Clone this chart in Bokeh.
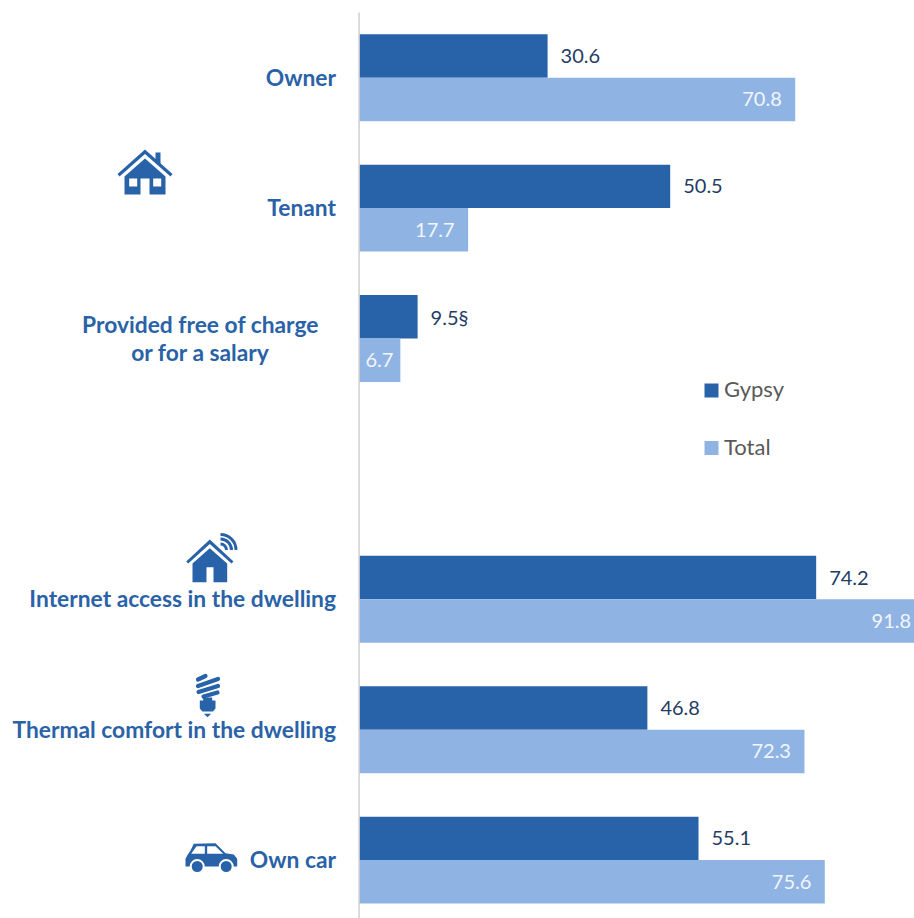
from bokeh.plotting import figure
from bokeh.models import Range1d
from bokeh.core.properties import value
from bokeh.embed import file_html
from bokeh.resources import INLINE

# Housing tenure and household amenities, % of households
categories = ["Owner", "Tenant", "Provided free of charge\nor for a salary", "",
              "Internet access in the dwelling", "Thermal comfort in the dwelling", "Own car"]
gypsy = [30.6, 50.5, 9.5, None, 74.2, 46.8, 55.1]
total = [70.8, 17.7, 6.7, None, 91.8, 72.3, 75.6]
gypsy_text = ["30.6", "50.5", "9.5§", "", "74.2", "46.8", "55.1"]
total_text = ["70.8", "17.7", "6.7", "", "91.8", "72.3", "75.6"]
series_names = ["Gypsy", "Total"]

DARK = "#2862A8"
LIGHT = "#8FB4E3"
LABEL = "#2A62A8"
VALUE = "#1F3D66"
GREY = "#595959"
FONT = "Lato"

W, H = 914, 918
X0 = 358.6      # pixel of the zero line
PX_PER_UNIT = 6.16
SLOT = 130.4
TOP = 77.2      # pixel centre of the first group

p = figure(width=W, height=H, output_backend="svg", toolbar_location=None,
           x_range=Range1d(-X0 / PX_PER_UNIT, (W - X0) / PX_PER_UNIT),
           y_range=Range1d((H - TOP) / SLOT, -TOP / SLOT),
           min_border=0, outline_line_color=None, background_fill_color="white",
           border_fill_color="white")
p.xaxis.visible = False
p.yaxis.visible = False
p.xgrid.visible = False
p.ygrid.visible = False
p.extra_x_ranges["px"] = Range1d(0, W)
p.extra_y_ranges["px"] = Range1d(H, 0)

BAR = 1 / 3
ys = [i for i, v in enumerate(gypsy) if v is not None]
g_vals = [gypsy[i] for i in ys]
t_vals = [total[i] for i in ys]

p.hbar(y=[i - BAR / 2 for i in ys], left=0, right=g_vals, height=BAR, color=DARK, line_color=None)
p.hbar(y=[i + BAR / 2 for i in ys], left=0, right=t_vals, height=BAR, color=LIGHT, line_color=None)

# zero line
p.segment(x0=[X0], y0=[12], x1=[X0], y1=[H], line_color="#D0D0D0", line_width=1.5,
          x_range_name="px", y_range_name="px")

# values: Gypsy outside the bar end, Total inside it (centred on the shortest bar)
p.text(x=g_vals, y=[i - BAR / 2 for i in ys], text=[gypsy_text[i] for i in ys], x_offset=13,
       text_align="left", text_baseline="middle", text_color=VALUE,
       text_font=value(FONT), text_font_size="20px")
p.text(x=t_vals, y=[i + BAR / 2 for i in ys], text=[total_text[i] for i in ys],
       x_offset=[-7 if v < 10 else -13.5 for v in t_vals],
       text_align="right", text_baseline="middle", text_color="#F2F6FB",
       text_font=value(FONT), text_font_size="20px")

# category labels
for i, name in enumerate(categories):
    if not name:
        continue
    px_y = TOP + SLOT * i - 1
    if "\n" in name:
        a, b = name.split("\n")
        p.text(x=[200, 200], y=[px_y - 14, px_y + 14], text=[a, b], text_align="center",
               text_baseline="middle", text_color=LABEL, text_font=value(FONT),
               text_font_style="bold", text_font_size="22.8px",
               x_range_name="px", y_range_name="px")
    else:
        p.text(x=[335.5], y=[px_y], text=[name], text_align="right", text_baseline="middle",
               text_color=LABEL, text_font=value(FONT), text_font_style="bold",
               text_font_size="22.8px", x_range_name="px", y_range_name="px")

# legend
p.rect(x=[711, 711], y=[390, 447.5], width=14, height=14, color=[DARK, LIGHT], line_color=None,
       x_range_name="px", y_range_name="px")
p.text(x=[723.5, 723.5], y=[387.5, 445.5], text=series_names, text_align="left", text_baseline="middle",
       text_color=GREY, text_font=value(FONT), text_font_size="22px",
       x_range_name="px", y_range_name="px")


def poly(points, color=DARK):
    p.patch(x=[q[0] for q in points], y=[q[1] for q in points], color=color, line_color=None,
            x_range_name="px", y_range_name="px")


# house beside the tenure groups
poly([(155, 152), (160, 152), (160, 166), (155, 162)])
poly([(117, 173.5), (144.5, 149), (172, 173.5), (170, 176), (144.5, 153.5), (119, 176)])
poly([(124, 176), (144.5, 158), (165, 176), (165, 194), (149, 194), (149, 178), (140, 178), (140, 194), (124, 194)])
poly([(128.7, 178), (136.7, 178), (136.7, 186), (128.7, 186)], "white")
poly([(152.7, 178), (160.7, 178), (160.7, 186), (152.7, 186)], "white")

# house with a wireless signal beside internet access
poly([(185.7, 561), (209.3, 539), (233, 561), (231, 563), (209.3, 543.5), (187.7, 563)])
poly([(192, 563), (209.3, 547.7), (226.7, 563), (226.7, 581.7), (213, 581.7), (213, 566.7),
      (206, 566.7), (206, 581.7), (192, 581.7)])
p.arc(x=[220, 220, 220], y=[549.5, 549.5, 549.5], radius=[6, 11, 15.5], start_angle=0, end_angle=1.57,
      direction="anticlock", line_color=DARK, line_width=3, x_range_name="px", y_range_name="px")

# compact bulb beside thermal comfort
for (x1, y1, x2, y2) in [(197.5, 679, 205, 675.5), (197.5, 685.5, 217.5, 678.5),
                         (198, 691.5, 217.5, 685.5), (203, 696, 217, 692)]:
    p.segment(x0=[x1], y0=[y1], x1=[x2], y1=[y2], line_color=DARK, line_width=4.2,
              line_cap="round", x_range_name="px", y_range_name="px")
poly([(202.7, 697), (211.7, 697), (211.7, 700), (215, 700), (215, 708), (212.5, 711), (201.8, 711),
      (199.3, 708), (199.3, 700), (202.7, 700)])
poly([(203.3, 713.3), (210.7, 713.3), (207, 716.7)])

# car beside own car
poly([(185, 866), (185, 858.3), (186.7, 855), (190, 850), (193.3, 843.3), (215, 842.7), (225, 852.7),
      (233.3, 854), (236.7, 858.3), (236.7, 866)])
poly([(190.7, 853.3), (196, 845.7), (204.3, 845.7), (204.3, 853.3)], "white")
poly([(206.7, 845.7), (215, 845.7), (222.7, 853.3), (206.7, 853.3)], "white")
p.circle(x=[196.7, 225.7], y=[866, 866], radius=[7.5, 7.5], fill_color="white", line_color=None,
         x_range_name="px", y_range_name="px")
p.circle(x=[196.7, 225.7], y=[866, 866], radius=[5.5, 5.5], fill_color=DARK, line_color=None,
         x_range_name="px", y_range_name="px")

open("out.html", "w").write(file_html(p, INLINE))
